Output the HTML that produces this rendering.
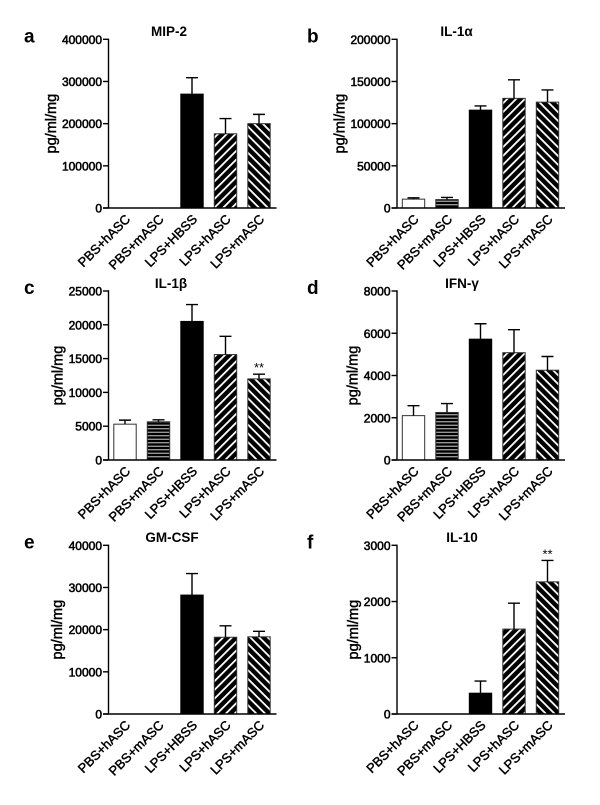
<!DOCTYPE html>
<html lang="en">
<head>
<meta charset="utf-8">
<title>Cytokine levels by treatment group</title>
<style>
html,body{margin:0;padding:0;background:#fff;width:600px;height:805px;overflow:hidden}
svg{display:block}
text{font-family:"Liberation Sans",Arial,sans-serif;fill:#000}
.tick{font-size:12px;stroke:#000;stroke-width:.55px}
.cat{font-size:13px;stroke:#000;stroke-width:.45px}
.ytitle{font-size:14.5px;stroke:#000;stroke-width:.45px}
.title{font-size:13.5px;font-weight:bold}
.letter{font-size:19px;font-weight:bold}
.star{font-size:13px}
</style>
</head>
<body>
<svg id="figure" xmlns="http://www.w3.org/2000/svg" width="600" height="805" viewBox="0 0 600 805">
<defs>
<filter id="soft" x="-2%" y="-2%" width="104%" height="104%"><feGaussianBlur stdDeviation="0.35"/></filter>
<pattern id="hatch-forward" patternUnits="userSpaceOnUse" width="6.2" height="6.2" patternTransform="rotate(-45)">
<rect width="6.2" height="6.2" fill="#000"/><rect y="0" width="6.2" height="1.8" fill="#fff"/>
</pattern>
<pattern id="hatch-back" patternUnits="userSpaceOnUse" width="6.2" height="6.2" patternTransform="rotate(45)">
<rect width="6.2" height="6.2" fill="#000"/><rect y="0" width="6.2" height="1.8" fill="#fff"/>
</pattern>
<pattern id="hatch-horizontal" patternUnits="userSpaceOnUse" width="4" height="3.5">
<rect width="4" height="3.5" fill="#000"/><rect y="1.2" width="4" height="1.1" fill="#bbb"/>
</pattern>
</defs>
<g id="plot-root" filter="url(#soft)"></g>
</svg>
<script>
const categories = ['PBS+hASC', 'PBS+mASC', 'LPS+HBSS', 'LPS+hASC', 'LPS+mASC'];

const mip2Ticks = [0, 100000, 200000, 300000, 400000];
const mip2Values = [0, 0, 270000, 176000, 200000];
const mip2ErrorTops = [0, 0, 309000, 212000, 222000];
const mip2Marks = ['', '', '', '', ''];

const il1aTicks = [0, 50000, 100000, 150000, 200000];
const il1aValues = [10500, 10000, 116000, 130000, 125500];
const il1aErrorTops = [12000, 12500, 121000, 152000, 140000];
const il1aMarks = ['', '', '', '', ''];

const il1bTicks = [0, 5000, 10000, 15000, 20000, 25000];
const il1bValues = [5300, 5650, 20500, 15600, 12000];
const il1bErrorTops = [5900, 5950, 23000, 18300, 12700];
const il1bMarks = ['', '', '', '', '**'];

const ifngTicks = [0, 2000, 4000, 6000, 8000];
const ifngValues = [2100, 2250, 5720, 5080, 4250];
const ifngErrorTops = [2570, 2670, 6450, 6170, 4900];
const ifngMarks = ['', '', '', '', ''];

const gmcsfTicks = [0, 10000, 20000, 30000, 40000];
const gmcsfValues = [0, 0, 28200, 18200, 18300];
const gmcsfErrorTops = [0, 0, 33300, 20900, 19600];
const gmcsfMarks = ['', '', '', '', ''];

const il10Ticks = [0, 1000, 2000, 3000];
const il10Values = [0, 0, 370, 1510, 2350];
const il10ErrorTops = [0, 0, 585, 1970, 2730];
const il10Marks = ['', '', '', '', '**'];

const NS = 'http://www.w3.org/2000/svg';
const root = document.getElementById('plot-root');
const barFills = ['#fff', 'url(#hatch-horizontal)', '#000', 'url(#hatch-forward)', 'url(#hatch-back)'];

function make(parent, tag, attrs, text) {
  const el = document.createElementNS(NS, tag);
  for (const k in attrs) el.setAttribute(k, attrs[k]);
  if (text !== undefined) el.textContent = text;
  parent.appendChild(el);
  return el;
}

function drawPanel(p) {
  const g = make(root, 'g', {});
  
  

  const maxTick = p.ticks[p.ticks.length - 1];
  const yScale = v => p.bottom - (v / maxTick) * (p.bottom - p.top);
  const xScale = i => p.axisX + 16.5 + 33.5 * i;

  const letter = make(g, 'text', {class: 'letter', x: p.letterX, y: p.top + 3}, p.letter);
  
  

  const title = make(g, 'text', {class: 'title', x: p.titleX, y: p.titleY, 'text-anchor': 'middle'}, p.title);
  
  

  const ytitleY = (p.top + p.bottom) / 2;
  const ytitle = make(g, 'text', {class: 'ytitle', 'text-anchor': 'middle',
    transform: 'translate(' + p.ytitleX + ',' + ytitleY + ') rotate(-90)'}, 'pg/ml/mg');
  
  

  categories.forEach((name, i) => {
    const value = p.values[i];
    const errorTop = p.errors[i];
    const cx = xScale(i);
    if (value > 0) {
      const bar = make(g, 'rect', {x: cx - 11.2, y: yScale(value), width: 22.4, height: p.bottom - yScale(value),
        fill: barFills[i], stroke: i === 2 ? '#000' : '#333', 'stroke-width': 1});
      
      
      const err = make(g, 'path', {
        d: 'M' + cx + ' ' + yScale(value) + 'V' + yScale(errorTop) + 'M' + (cx - 6) + ' ' + yScale(errorTop) + 'H' + (cx + 6),
        fill: 'none', stroke: '#000', 'stroke-width': 1.4});
      
      
    }
    if (p.marks[i]) {
      const star = make(g, 'text', {class: 'star', x: cx, y: yScale(errorTop) - 2, 'text-anchor': 'middle'}, p.marks[i]);
      
      
    }
    const cat = make(g, 'text', {class: 'cat', 'text-anchor': 'end',
      transform: 'translate(' + (cx + 6) + ',' + (p.bottom + 12) + ') rotate(-45)'}, name);
    
    
  });

  p.ticks.forEach(t => {
    const y = yScale(t);
    const tick = make(g, 'line', {x1: p.axisX - 5.5, x2: p.axisX, y1: y, y2: y, stroke: '#000', 'stroke-width': 1.4});
    
    
    const label = make(g, 'text', {class: 'tick', x: p.axisX - 6.5, y: y + 4.5, 'text-anchor': 'end'}, String(t));
    
    
  });

  const yAxis = make(g, 'line', {x1: p.axisX, x2: p.axisX, y1: p.top - 0.7, y2: p.bottom, stroke: '#000', 'stroke-width': 1.4});
  
  
  const xAxis = make(g, 'line', {x1: p.axisX - 5.5, x2: p.axisX + 168, y1: p.bottom, y2: p.bottom, stroke: '#000', 'stroke-width': 1.4});
  
  
}

drawPanel({letter: 'a', title: 'MIP-2', ticks: mip2Ticks, values: mip2Values, errors: mip2ErrorTops, marks: mip2Marks,
  axisX: 108.5, top: 39.3, bottom: 208, letterX: 24, titleX: 169, titleY: 36, ytitleX: 56});
drawPanel({letter: 'b', title: 'IL-1α', ticks: il1aTicks, values: il1aValues, errors: il1aErrorTops, marks: il1aMarks,
  axisX: 397, top: 39.3, bottom: 208, letterX: 307, titleX: 456.5, titleY: 36, ytitleX: 344.5});
drawPanel({letter: 'c', title: 'IL-1β', ticks: il1bTicks, values: il1bValues, errors: il1bErrorTops, marks: il1bMarks,
  axisX: 108.5, top: 291, bottom: 460, letterX: 24, titleX: 171, titleY: 288, ytitleX: 62.5});
drawPanel({letter: 'd', title: 'IFN-γ', ticks: ifngTicks, values: ifngValues, errors: ifngErrorTops, marks: ifngMarks,
  axisX: 397, top: 291, bottom: 460, letterX: 307, titleX: 462, titleY: 288, ytitleX: 357.5});
drawPanel({letter: 'e', title: 'GM-CSF', ticks: gmcsfTicks, values: gmcsfValues, errors: gmcsfErrorTops, marks: gmcsfMarks,
  axisX: 108.5, top: 545.3, bottom: 714, letterX: 24, titleX: 172, titleY: 542, ytitleX: 62});
drawPanel({letter: 'f', title: 'IL-10', ticks: il10Ticks, values: il10Values, errors: il10ErrorTops, marks: il10Marks,
  axisX: 397, top: 545.3, bottom: 714, letterX: 307, titleX: 462, titleY: 542, ytitleX: 358});
</script>
</body>
</html>
